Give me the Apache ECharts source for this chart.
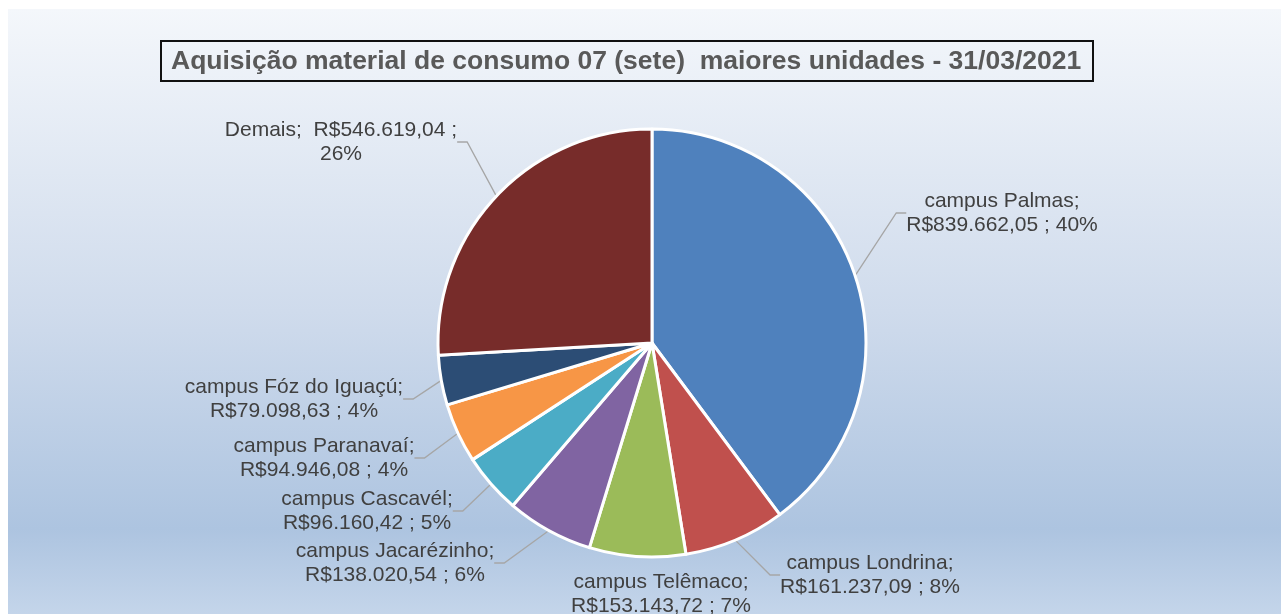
<!DOCTYPE html>
<html>
<head>
<meta charset="utf-8">
<script src="https://cdn.jsdelivr.net/npm/echarts@6/dist/echarts.min.js"></script>
<style>
  html, body { margin: 0; padding: 0; background: #fff; }
  #main { width: 1281px; height: 614px; }
</style>
</head>
<body>
<div id="main"></div>
<script>
// dados
const names = ['campus Palmas', 'campus Londrina', 'campus Telêmaco', 'campus Jacarézinho',
               'campus Cascavél', 'campus Paranavaí', 'campus Fóz do Iguaçú', 'Demais'];
const values = [839662.05, 161237.09, 153143.72, 138020.54, 96160.42, 94946.08, 79098.63, 546619.04];
const colors = ['#4F81BD', '#C0504D', '#9BBB59', '#8064A2', '#4BACC6', '#F79646', '#2C4D75', '#772C2A'];
const titleText = 'Aquisição material de consumo 07 (sete)  maiores unidades - 31/03/2021';

// onde ficam os rótulos (centro do texto)
const labelPos = [[1002, 213], [870, 575], [661, 594], [395, 563],
                  [367, 511], [324, 458], [294, 399], [341, 142]];

function brl(v) {
    const parts = v.toFixed(2).split('.');
    return 'R$' + parts[0].replace(/\B(?=(\d{3})+(?!\d))/g, '.') + ',' + parts[1];
}

const chart = echarts.init(document.getElementById('main'));
const option = {
    backgroundColor: '#ffffff',
    graphic: [{
        type: 'rect',
        z: -10,
        silent: true,
        shape: { x: 8, y: 9, width: 1273, height: 605 },
        style: {
            fill: new echarts.graphic.LinearGradient(0, 0, 0, 1, [
                { offset: 0, color: '#f4f7fb' },
                { offset: 0.5, color: '#cfdbec' },
                { offset: 0.86, color: '#adc4e0' },
                { offset: 1, color: '#c4d5ea' }
            ])
        }
    }],
    title: {
        text: titleText,
        left: 161,
        top: 41,
        padding: [7, 12, 6, 10],
        borderColor: '#111',
        borderWidth: 2,
        textStyle: {
            fontFamily: 'Liberation Sans, Arial, sans-serif',
            fontSize: 26.5,
            fontWeight: 'bold',
            color: '#595959'
        }
    },
    series: [{
        type: 'pie',
        center: [652, 343],
        radius: 214,
        startAngle: 90,
        clockwise: true,
        percentPrecision: 0,
        avoidLabelOverlap: false,
        itemStyle: { borderColor: '#fff', borderWidth: 3 },
        label: {
            show: true,
            position: 'outside',
            fontFamily: 'Liberation Sans, Arial, sans-serif',
            fontSize: 21,
            lineHeight: 24,
            color: '#404040',
            align: 'center',
            formatter: function (p) {
                if (p.name === 'Demais') {
                    return p.name + ';  ' + brl(p.value) + ' ;\n' + p.percent + '%';
                }
                return p.name + ';\n' + brl(p.value) + ' ; ' + p.percent + '%';
            }
        },
        labelLine: {
            show: true,
            length: 12,
            length2: 10,
            lineStyle: { color: '#a6a6a6', width: 1.3 }
        },
        labelLayout: function (params) {
            const p = labelPos[params.dataIndex];
            return { x: p[0], y: p[1], align: 'center', verticalAlign: 'middle' };
        },
        emphasis: { disabled: true },
        data: names.map((n, i) => ({
            name: n,
            value: values[i],
            itemStyle: { color: colors[i] },
            labelLine: { show: n !== 'campus Telêmaco' }
        }))
    }]
};
chart.setOption(option);
</script>
</body>
</html>
